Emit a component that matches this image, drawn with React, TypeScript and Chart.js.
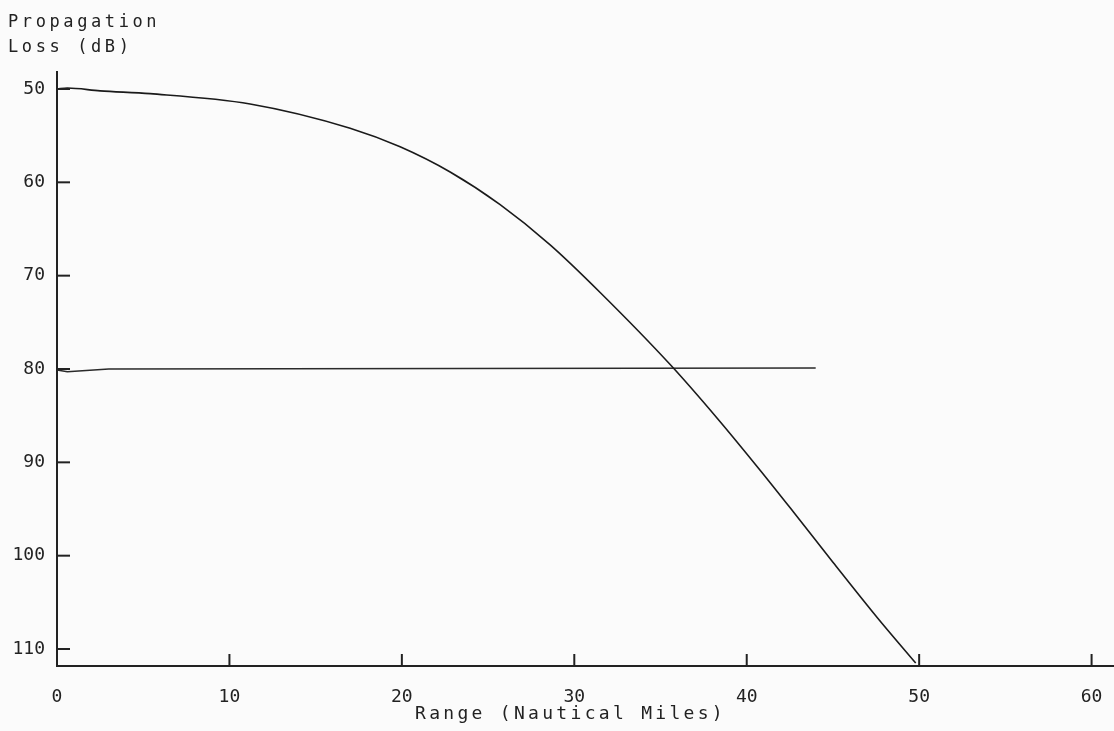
import { useEffect, useRef } from "react";
import { Chart, registerables } from "chart.js";

Chart.register(...registerables);

// ---- data ----
const rangeNm = [0, 0.6, 2.5, 5.4, 11.2, 17.0, 19.9, 22.8, 25.7, 28.6, 31.5, 35.6, 38.3, 40.8, 42.7, 45.0, 47.6, 49.8];
const lossDb = [50.0, 49.9, 50.2, 50.5, 51.6, 54.2, 56.2, 58.9, 62.4, 66.7, 71.8, 79.6, 85.3, 90.9, 95.3, 100.7, 106.7, 111.5];

const thresholdRange = [0, 0.6, 3.0, 44.0];
const thresholdLoss = [80.1, 80.3, 80.0, 79.9];

const xTicks = [0, 10, 20, 30, 40, 50, 60];
const yTicks = [50, 60, 70, 80, 90, 100, 110];

const yTitleLines = ["Propagation", "Loss (dB)"];
const xTitle = "Range (Nautical Miles)";

const INK = "#222222";
const FONT = '"DejaVu Sans Mono", "Liberation Mono", monospace';

const decorPlugin = {
  id: "decor",
  afterDraw(chart: any) {
    const { ctx, chartArea, scales } = chart;
    ctx.save();
    ctx.strokeStyle = INK;
    ctx.lineWidth = 2;
    // inward tick marks
    yTicks.forEach((v) => {
      const y = scales.y.getPixelForValue(v);
      ctx.beginPath();
      ctx.moveTo(chartArea.left, y);
      ctx.lineTo(chartArea.left + 13, y);
      ctx.stroke();
    });
    xTicks.forEach((v) => {
      if (v === 0) return;
      const x = scales.x.getPixelForValue(v);
      ctx.beginPath();
      ctx.moveTo(x, chartArea.bottom);
      ctx.lineTo(x, chartArea.bottom - 12);
      ctx.stroke();
    });
    // titles
    ctx.fillStyle = INK;
    ctx.textAlign = "left";
    ctx.textBaseline = "alphabetic";
    ctx.font = `17px ${FONT}`;
    (ctx as any).letterSpacing = "3.6px";
    ctx.fillText(yTitleLines[0], 8, 27);
    ctx.fillText(yTitleLines[1], 8, 52);
    ctx.font = `18px ${FONT}`;
    (ctx as any).letterSpacing = "3.3px";
    ctx.fillText(xTitle, 415, 719);
    ctx.restore();
  },
};

export default function App() {
  const canvasRef = useRef<HTMLCanvasElement | null>(null);

  useEffect(() => {
    if (!canvasRef.current) return;
    const chart = new Chart(canvasRef.current, {
      type: "line",
      data: {
        datasets: [
          {
            label: "Propagation loss",
            data: rangeNm.map((x, i) => ({ x, y: lossDb[i] })),
            borderColor: "#1a1a1a",
            borderWidth: 1.6,
            pointRadius: 0,
            fill: false,
            tension: 0.4,
            cubicInterpolationMode: "monotone",
          },
          {
            label: "Threshold",
            data: thresholdRange.map((x, i) => ({ x, y: thresholdLoss[i] })),
            borderColor: "#2a2a2a",
            borderWidth: 1.6,
            pointRadius: 0,
            fill: false,
            tension: 0,
          },
        ],
      },
      options: {
        animation: false,
        responsive: true,
        maintainAspectRatio: false,
        layout: { padding: { top: 72, left: 0, right: 0, bottom: 0 } },
        plugins: {
          legend: { display: false },
          tooltip: { enabled: false },
          title: { display: false },
        },
        scales: {
          x: {
            type: "linear",
            min: 0,
            max: 61.3,
            afterBuildTicks: (s: any) => {
              s.ticks = xTicks.map((v) => ({ value: v }));
            },
            afterFit: (s: any) => {
              s.height = 65;
              s.paddingLeft = 0;
              s.paddingRight = 0;
            },
            grid: { display: false, drawTicks: false },
            border: { display: true, color: INK, width: 2 },
            ticks: {
              color: INK,
              padding: 21,
              maxRotation: 0,
              autoSkip: false,
              font: { family: FONT, size: 18 },
              callback: (v: any) => String(v),
            },
          },
          y: {
            type: "linear",
            reverse: true,
            min: 48.18,
            max: 111.82,
            afterBuildTicks: (s: any) => {
              s.ticks = yTicks.map((v) => ({ value: v }));
            },
            afterFit: (s: any) => {
              s.width = 57;
              s.paddingTop = 0;
              s.paddingBottom = 0;
            },
            grid: { display: false, drawTicks: false },
            border: { display: true, color: INK, width: 2 },
            ticks: {
              color: INK,
              padding: 12,
              autoSkip: false,
              font: { family: FONT, size: 18 },
              callback: (v: any) => String(v),
            },
          },
        },
      },
      plugins: [decorPlugin],
    });
    return () => chart.destroy();
  }, []);

  return (
    <div
      style={{
        position: "fixed",
        left: 0,
        top: 0,
        width: 1114,
        height: 731,
        background: "#fbfbfb",
      }}
    >
      <canvas ref={canvasRef} />
    </div>
  );
}
